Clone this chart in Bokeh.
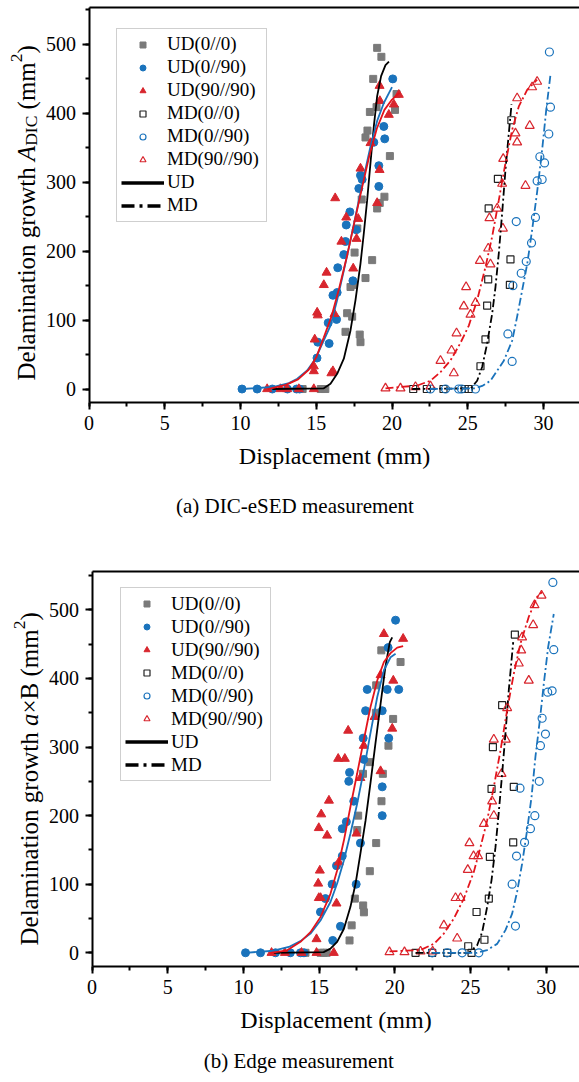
import numpy as np
from bokeh.plotting import figure
from bokeh.models import (Legend, LegendItem, LinearAxis, FixedTicker,
                          SingleIntervalTicker, Range1d, Label)
from bokeh.layouts import column
from bokeh.embed import file_html
from bokeh.resources import INLINE

FONT = "Liberation Serif"

# ---------------- data: panel (a) DIC-eSED ----------------
a_ud00_x = [13.9, 14.1, 15.3, 15.6, 16.93, 17.04, 17.37, 17.87, 17.92, 17.26, 17.48, 17.53, 17.71, 18.25, 18.69,
            19.02, 19.19, 19.5, 19.86, 18.25, 18.38, 18.54, 18.98, 18.76, 19.3, 19.02, 20.2, 20.3, 18.0]
a_ud00_y = [0, 0, 0, 0, 83, 110, 105, 79, 68, 148, 151, 198, 233, 161, 187,
            262, 270, 279, 338, 365, 375, 402, 409, 450, 482, 495, 405, 428, 275]
a_ud090_x = [10.1, 11.1, 12.1, 13.1, 13.7, 13.9, 15.05, 15.1, 15.79, 15.85, 16.1, 16.34, 16.38, 16.42, 16.82,
             16.93, 16.98, 17.22, 17.42, 17.64, 17.81, 17.92, 18.03, 18.8, 19.13, 19.13, 19.46, 19.52, 20.05]
a_ud090_y = [0, 0, 0, 0, 0, 0, 45, 68, 96, 66, 136, 101, 140, 176, 195,
             214, 238, 257, 157, 231, 291, 310, 304, 358, 324, 294, 381, 363, 450]
a_ud9090_x = [11.76, 12.64, 13.08, 13.85, 14.84, 14.84, 14.84, 14.9, 15.06, 15.1, 15.5, 15.68, 16.0, 16.1, 16.2,
              16.25, 16.66, 16.98, 17.44, 17.66, 17.77, 17.92, 18.58, 19.02, 19.18, 19.18, 19.2, 19.79, 20.12, 20.45]
a_ud9090_y = [0, 0, 0, 0, 0, 33, 26, 72, 111, 107, 151, 169, 23, 26, 109,
              277, 214, 249, 175, 218, 247, 320, 357, 270, 318, 440, 418, 398, 413, 427]
a_md00_x = [21.4, 22.3, 23.4, 24.8, 25.07, 25.84, 26.17, 26.28, 26.35, 26.38, 26.99, 27.78, 27.82, 27.88]
a_md00_y = [0, 0, 0, 0, 0, 33, 72, 121, 159, 262, 305, 151, 188, 390]
a_md090_x = [22.54, 23.53, 24.4, 24.59, 25.51, 27.65, 27.93, 27.98, 28.2, 28.53, 28.86, 29.21, 29.47, 29.58,
             29.76, 29.91, 30.07, 30.35, 30.46, 30.39]
a_md090_y = [0, 0, 0, 0, 0, 80, 40, 150, 243, 168, 185, 212, 249, 302, 337, 304, 328, 370, 409, 489]
a_md9090_x = [19.57, 20.56, 21.55, 22.54, 23.2, 23.93, 24.08, 24.26, 24.74, 24.89, 25.18, 25.51, 25.8, 26.35,
              26.43, 26.5, 26.94, 27.27, 27.32, 27.34, 28.15, 28.26, 28.26, 28.81, 29.09, 29.25, 29.58]
a_md9090_y = [1, 1, 3, 4, 41, 56, 23, 81, 120, 148, 108, 125, 186, 204,
              248, 181, 262, 298, 233, 334, 371, 358, 422, 295, 382, 438, 446]

a_fit_ud00_x = [12.1, 15.5, 15.94, 16.38, 16.82, 17.26, 17.59, 17.92, 18.14, 18.36, 18.58, 18.8, 19.02, 19.28, 19.57, 19.8]
a_fit_ud00_y = [0, 1, 7.5, 22, 44, 85, 129, 182, 226, 274, 328, 381, 425, 454, 470, 475]
a_fit_ud090_x = [10.1, 12.2, 13.2, 13.75, 14.4, 14.95, 15.5, 15.94, 16.38, 16.82, 17.26, 17.7, 18.14, 18.58, 19.02, 19.46, 20.0]
a_fit_ud090_y = [0, 3, 8.5, 15, 27, 44, 70.6, 92, 129, 172, 216, 262, 308, 352, 389, 415, 438]
a_fit_ud9090_x = [11.8, 13.0, 13.8, 14.5, 15.0, 15.5, 16.0, 16.5, 17.0, 17.5, 18.0, 18.5, 19.0, 19.5, 20.0, 20.5]
a_fit_ud9090_y = [0, 6, 14, 28, 46, 75, 105, 145, 190, 240, 290, 338, 378, 405, 420, 430]
a_fit_md00_x = [21.33, 25.2, 25.62, 25.95, 26.28, 26.61, 26.83, 27.05, 27.27, 27.49, 27.71, 27.89]
a_fit_md00_y = [0, 1, 12, 32, 66, 109, 148, 197, 255, 318, 371, 413]
a_fit_md090_x = [22.5, 25.5, 26.0, 26.5, 27.38, 27.93, 28.26, 28.59, 28.93, 29.25, 29.58, 29.91, 30.18, 30.46]
a_fit_md090_y = [0, 1, 5, 12, 41, 70, 105, 143, 182, 231, 286, 347, 405, 456]
a_fit_md9090_x = [19.57, 21.66, 22.54, 23.2, 23.86, 24.5, 25.07, 25.62, 26.17, 26.61, 27.05, 27.49, 27.93, 28.37, 28.92, 29.58]
a_fit_md9090_y = [1, 5, 12, 24.5, 41.5, 66, 92, 129, 177, 221, 274, 328, 376, 410, 434, 449]

# ---------------- data: panel (b) Edge ----------------
b_ud00_x = [14.1, 15.1, 15.3, 15.5, 17.01, 17.15, 17.36, 17.52, 17.58, 17.91, 17.96, 18.35, 17.9, 18.35, 18.75,
            18.77, 19.12, 19.21, 19.58, 19.89, 19.11, 20.38, 18.77]
b_ud00_y = [0, 0, 0, 0, 18, 40, 79, 179, 200, 69, 59, 119, 261, 278, 350,
            160, 221, 261, 302, 341, 441, 424, 390]
b_ud090_x = [10.14, 11.13, 12.12, 13.1, 13.77, 14.0, 15.09, 15.42, 15.9, 16.41, 15.86, 17.45, 16.15, 16.53, 17.73,
             16.53, 16.8, 17.29, 19.17, 19.17, 16.96, 17.01, 17.95, 17.91, 19.6, 18.07, 19.17, 18.18, 19.5,
             20.26, 19.56, 20.05]
b_ud090_y = [0, 0, 0, 0, 0, 0, 59.5, 79, 18, 38.6, 100, 100, 127, 141, 160,
             181, 191, 221, 200, 242, 250, 263, 282, 313, 313, 353, 353, 384, 384,
             384, 445, 485]
b_ud9090_x = [11.86, 12.74, 13.84, 14.83, 15.97, 14.83, 14.98, 15.1, 16.15, 14.94, 15.05, 16.3, 17.47, 15.53,
              14.98, 15.14, 15.65, 17.73, 19.06, 16.26, 16.7, 17.95, 16.92, 19.83, 18.66, 19.9, 19.06, 20.55, 19.28]
b_ud9090_y = [0, 0, 0, 0, 0, 20, 80, 80, 72, 101, 120, 132, 174, 171,
              182, 202, 222, 255, 265, 283, 283, 302, 324, 327, 344, 397, 405, 458, 465]
b_md00_x = [21.37, 22.47, 23.46, 25.07, 24.85, 25.92, 25.4, 26.21, 26.28, 27.82, 26.39, 27.86, 26.48, 27.09, 27.93]
b_md00_y = [0, 0, 0, 0, 9.5, 19, 59.5, 79, 140, 161, 239, 242, 300, 361, 464]
b_md090_x = [22.47, 23.46, 24.45, 25.55, 27.97, 27.75, 28.04, 28.57, 28.96, 29.25, 28.27, 29.54, 29.62, 29.95,
             29.73, 30.1, 30.39, 30.5, 30.44]
b_md090_y = [0, 0, 0, 0, 39, 100, 141, 161, 181, 200, 240, 250, 302, 319, 342, 380, 382, 442, 540]
b_md9090_x = [19.65, 20.64, 21.7, 22.5, 24.12, 23.24, 24.01, 24.34, 24.82, 25.2, 25.5, 24.93, 25.88, 26.54,
              26.43, 27.05, 26.54, 27.33, 27.42, 28.85, 28.19, 28.35, 28.41, 29.14, 29.23, 29.69]
b_md9090_y = [1, 1, 2, 2, 21, 40, 80, 80, 121, 141, 141, 160, 188, 200,
              221, 261, 311, 311, 357, 397, 422, 441, 460, 478, 507, 521]

b_fit_ud00_x = [12.01, 15.3, 15.75, 16.19, 16.64, 17.07, 17.41, 17.73, 18.07, 18.39, 18.72, 19.06, 19.38, 19.67, 19.83]
b_fit_ud00_y = [0, 1, 6, 16, 35, 67, 101, 145, 193, 247, 305, 363, 417, 453, 460]
b_fit_ud090_x = [10.14, 12.0, 13.0, 13.77, 14.43, 15.09, 15.75, 16.19, 16.64, 17.07, 17.51, 17.95, 18.39, 18.84, 19.28, 19.72, 20.05]
b_fit_ud090_y = [0, 3, 8.5, 17, 28, 47, 74, 101, 135, 174, 217, 266, 320, 373, 412, 431, 436]
b_fit_ud9090_x = [11.79, 12.89, 13.77, 14.43, 15.09, 15.75, 16.19, 16.64, 17.07, 17.51, 17.95, 18.39, 18.84, 19.28, 19.72, 20.16, 20.55]
b_fit_ud9090_y = [0, 3.6, 16, 30, 52, 86, 120, 164, 213, 261, 310, 358, 397, 424, 437, 445, 447]
b_fit_md00_x = [21.37, 24.9, 25.44, 25.77, 26.1, 26.39, 26.65, 26.86, 27.09, 27.31, 27.53, 27.82]
b_fit_md00_y = [0, 0, 11, 30, 67, 106, 154, 203, 261, 320, 383, 453]
b_fit_md090_x = [22.47, 25.44, 26.1, 26.76, 27.31, 27.75, 28.08, 28.41, 28.74, 29.03, 29.29, 29.58, 29.84, 30.13, 30.5]
b_fit_md090_y = [0, 0, 4, 13, 33, 57, 89, 130, 179, 227, 286, 339, 392, 446, 494]
b_fit_md9090_x = [19.65, 21.7, 22.58, 23.24, 23.9, 24.56, 25.22, 25.66, 26.1, 26.54, 26.98, 27.42, 27.86, 28.3, 28.85, 29.4, 29.73]
b_fit_md9090_y = [2, 4, 13, 28, 50, 79, 118, 154, 193, 242, 295, 354, 407, 451, 490, 519, 526]

series_names = ["UD(0//0)", "UD(0//90)", "UD(90//90)", "MD(0//0)", "MD(0//90)", "MD(90//90)"]
fit_names = ["UD", "MD"]
x_label = "Displacement (mm)"

GRAY = "#7a7a7a"
BLUE = "#1a73bc"
RED = "#d8262e"
RED_LINE = "#e3141c"
BLUE_LINE = "#1a73bc"

# Times / Liberation Serif advance widths (per em) for composing the rotated y label
W = {" ": .25, "(": .333, ")": .333, "2": .5, "D": .722, "I": .333, "C": .667, "B": .667, "a": .444,
     "e": .444, "g": .5, "h": .5, "i": .278, "l": .278, "m": .778, "n": .5, "o": .5, "r": .333,
     "t": .278, "w": .722, "\u00d7": .564, "A": .611}


def text_w(s, size, italic=False):
    if italic and s == "a":
        return 0.5 * size
    return sum(W.get(c, 0.5) for c in s) * size


def make_panel(d, ylab, caption, H, f_top, f_bot, x0px, xscale, yspan, leg_loc, cap_px, ylab_px):
    """The frame fills the whole canvas; axes are pinned with fixed_location/bounds so that
    the surrounding texts live inside the (unclipped) frame area."""
    CW = 579
    xstart = -x0px / xscale
    xend = (CW - x0px) / xscale
    y0, y1 = yspan
    ys = (f_bot - f_top) / (y1 - y0)             # px per y unit
    ytop = y1 + f_top / ys
    ybot = y0 - (H - f_bot) / ys

    def px2y(py):
        return y0 - (py - f_bot) / ys

    p = figure(width=CW, height=H, x_range=Range1d(xstart, xend), y_range=Range1d(ybot, ytop),
               output_backend="svg", toolbar_location=None,
               min_border_left=0, min_border_right=0, min_border_top=0, min_border_bottom=0,
               outline_line_color=None, background_fill_color="white", border_fill_color="white")
    p.xgrid.visible = False
    p.ygrid.visible = False

    p.xaxis.ticker = SingleIntervalTicker(interval=5, num_minor_ticks=2)
    p.yaxis.ticker = SingleIntervalTicker(interval=100, num_minor_ticks=2)
    p.xaxis.bounds = (0, xend)
    p.xaxis.fixed_location = y0
    p.yaxis.bounds = (y0, y1)
    p.yaxis.fixed_location = 0
    for ax in (p.xaxis[0], p.yaxis[0]):
        ax.axis_line_width = 2
        ax.axis_line_color = "black"
        ax.major_tick_line_width = 2
        ax.minor_tick_line_width = 2
        ax.major_tick_in = 0
        ax.major_tick_out = 7
        ax.minor_tick_in = 0
        ax.minor_tick_out = 4
        ax.major_label_text_font = FONT
        ax.major_label_text_font_size = "20px"
        ax.major_label_text_color = "black"
    p.xaxis.major_label_standoff = 6
    p.yaxis.major_label_standoff = 6
    p.xaxis.axis_label = x_label
    p.xaxis.axis_label_text_font = FONT
    p.xaxis.axis_label_text_font_size = "24px"
    p.xaxis.axis_label_text_font_style = "normal"
    p.xaxis.axis_label_text_color = "black"
    p.xaxis.axis_label_standoff = 10

    top = LinearAxis(ticker=FixedTicker(ticks=[]), axis_line_width=2, axis_line_color="black",
                     major_tick_in=0, major_tick_out=0, minor_tick_in=0, minor_tick_out=0,
                     major_label_text_font_size="0px", major_label_standoff=0,
                     bounds=(0, xend), fixed_location=y1)
    p.add_layout(top, "above")

    # scatter series
    r1 = p.scatter(d["ud00_x"], d["ud00_y"], marker="square", size=7, fill_color=GRAY, line_color=GRAY)
    r2 = p.scatter(d["ud090_x"], d["ud090_y"], marker="circle", size=8, fill_color=BLUE, line_color=BLUE)
    r3 = p.scatter(d["ud9090_x"], d["ud9090_y"], marker="triangle", size=9, fill_color=RED, line_color=RED)
    r4 = p.scatter(d["md00_x"], d["md00_y"], marker="square", size=7, fill_color=None, line_color="#222222", line_width=1.2)
    r5 = p.scatter(d["md090_x"], d["md090_y"], marker="circle", size=8, fill_color=None, line_color=BLUE, line_width=1.2)
    r6 = p.scatter(d["md9090_x"], d["md9090_y"], marker="triangle", size=9, fill_color=None, line_color=RED, line_width=1.2)

    # fitted curves
    p.line(d["fit_ud00_x"], d["fit_ud00_y"], line_color="black", line_width=1.8)
    p.line(d["fit_ud090_x"], d["fit_ud090_y"], line_color=BLUE_LINE, line_width=1.8)
    p.line(d["fit_ud9090_x"], d["fit_ud9090_y"], line_color=RED_LINE, line_width=1.8)
    dash = "8 3 2 3"
    p.line(d["fit_md00_x"], d["fit_md00_y"], line_color="black", line_width=1.8, line_dash=dash)
    p.line(d["fit_md090_x"], d["fit_md090_y"], line_color=BLUE_LINE, line_width=1.8, line_dash=dash)
    p.line(d["fit_md9090_x"], d["fit_md9090_y"], line_color=RED_LINE, line_width=1.8, line_dash=dash)

    # legend-only line samples (no visible data)
    nan2 = [float("nan"), float("nan")]
    lu = p.line(nan2, nan2, line_color="black", line_width=3.5)
    lm = p.line(nan2, nan2, line_color="black", line_width=3.5, line_dash="13 5 3 5")

    items = [LegendItem(label=n, renderers=[r]) for n, r in zip(series_names, [r1, r2, r3, r4, r5, r6])]
    items += [LegendItem(label=fit_names[0], renderers=[lu]), LegendItem(label=fit_names[1], renderers=[lm])]
    leg = Legend(items=items, location=(leg_loc[0], H - leg_loc[1]), padding=4, spacing=0, margin=0,
                 glyph_width=43, glyph_height=15, label_height=23, label_width=95, label_standoff=3,
                 label_text_font=FONT, label_text_font_size="19px", label_text_color="black",
                 border_line_color="#a0a0a0", border_line_width=1, background_fill_color="white",
                 background_fill_alpha=1.0)
    p.add_layout(leg, "center")

    # rotated y label assembled from pieces (left of the pinned y axis)
    bx_px, by_px = ylab_px
    acc = 0.0
    for txt, size, style, shift, gap in ylab:
        acc += gap * 25
        p.add_layout(Label(x=(bx_px + shift) / xscale, y=px2y(by_px - acc), text=txt,
                           angle=np.pi / 2, text_align="left", text_baseline="alphabetic",
                           text_font=FONT, text_font_size=f"{size}px", text_font_style=style,
                           text_color="black"))
        acc += text_w(txt, size, style == "italic")

    cx, cy = cap_px
    p.add_layout(Label(x=(cx - x0px) / xscale, y=px2y(cy), text=caption,
                       text_align="center", text_baseline="middle", text_font=FONT,
                       text_font_size="21px", text_color="black"))
    return p


def pack(prefix):
    g = globals()
    keys = ["ud00", "ud090", "ud9090", "md00", "md090", "md9090",
            "fit_ud00", "fit_ud090", "fit_ud9090", "fit_md00", "fit_md090", "fit_md9090"]
    d = {}
    for k in keys:
        d[k + "_x"] = g[f"{prefix}_{k}_x"]
        d[k + "_y"] = g[f"{prefix}_{k}_y"]
    return d


# (text, font px, style, baseline shift px, space before in em)
ylab_a = [("Delamination growth", 25, "normal", 0, 0), ("A", 25, "italic", 0, 0.25),
          ("DIC", 17.5, "normal", 5, 0), ("(mm", 25, "normal", 0, 0.25),
          ("2", 17.5, "normal", -10, 0), (")", 25, "normal", 0, 0)]
ylab_b = [("Delamination growth", 25, "normal", 0, 0), ("a", 25, "italic", 0, 0.25),
          ("\u00d7B", 25, "normal", 0, 0), ("(mm", 25, "normal", 0, 0.25),
          ("2", 17.5, "normal", -10, 0), (")", 25, "normal", 0, 0)]

pa = make_panel(pack("a"), ylab_a, "(a) DIC-eSED measurement", H=530, f_top=6.7, f_bot=402.3,
                x0px=88.5, xscale=15.15, yspan=(-20, 554), leg_loc=(116, 221.7),
                cap_px=(294.5, 505), ylab_px=(-63, 380))
pb = make_panel(pack("b"), ylab_b, "(b) Edge measurement", H=552, f_top=41, f_bot=436,
                x0px=91.5, xscale=15.14, yspan=(-20, 556), leg_loc=(120, 251),
                cap_px=(298.2, 530), ylab_px=(-63, 415))

layout = column(pa, pb, spacing=0)
open("out.html", "w").write(file_html(layout, INLINE))
